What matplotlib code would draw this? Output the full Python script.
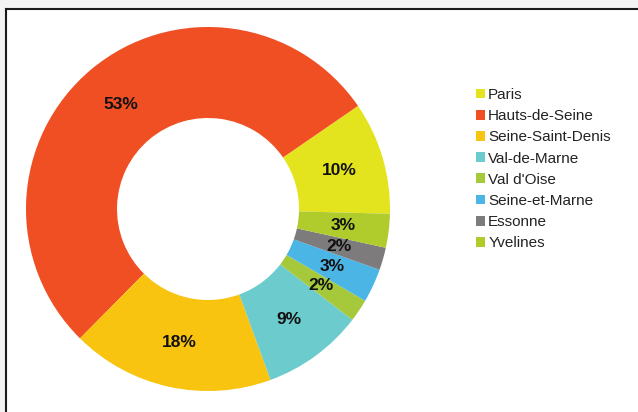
import matplotlib.pyplot as plt
from matplotlib.patches import Rectangle

# données du graphique
departements = ["Paris", "Hauts-de-Seine", "Seine-Saint-Denis", "Val-de-Marne",
                "Val d'Oise", "Seine-et-Marne", "Essonne", "Yvelines"]
parts = [10, 53, 18, 9, 2, 3, 2, 3]
couleurs = ["#e4e41e", "#f04e23", "#f8c410", "#6ccbcc",
            "#a5c93a", "#4bb5e6", "#7d7b7b", "#b0cc2c"]

W, H = 638, 412
fig = plt.figure(figsize=(W / 100, H / 100), dpi=100, facecolor="#f3f3f3")

# cadre blanc avec bord noir en haut et a gauche
fig.patches.append(Rectangle((6 / W, 0), 1, (H - 9) / H, transform=fig.transFigure,
                             facecolor="white", edgecolor="none", zorder=-5))
fig.lines.append(plt.Line2D([6 / W, 1], [(H - 9) / H] * 2, transform=fig.transFigure,
                            color="#1a1a1a", lw=1.5, zorder=-4))
fig.lines.append(plt.Line2D([6 / W] * 2, [0, (H - 9) / H], transform=fig.transFigure,
                            color="#1a1a1a", lw=1.5, zorder=-4))

cx, cy, r = 208, 203, 182
ax = fig.add_axes([(cx - r) / W, (cy - r) / H, 2 * r / W, 2 * r / H])
ax.set_zorder(2)
wedges, textes, autotextes = ax.pie(
    parts, colors=couleurs, startangle=-1.5, counterclock=True,
    radius=1, wedgeprops=dict(width=0.5, edgecolor="none"),
    autopct=lambda p: "%d%%" % round(p), pctdistance=0.75,
    textprops=dict(fontsize=12.5, fontweight="bold", color="#111111",
                   family="Liberation Sans"))
ax.set_xlim(-1, 1)
ax.set_ylim(-1, 1)
ax.set_aspect("equal")
ax.axis("off")

leg = fig.legend(wedges, departements, loc="upper left",
                 bbox_to_anchor=(476 / W, (H - 88) / H), frameon=False,
                 prop=dict(family="Liberation Sans", size=11),
                 handlelength=0.6, handleheight=0.6, handletextpad=0.2,
                 labelspacing=0.47, borderaxespad=0, borderpad=0)
leg.set_zorder(3)
for t in leg.get_texts():
    t.set_color("#222222")

fig.savefig("out.png", dpi=100, facecolor=fig.get_facecolor())
